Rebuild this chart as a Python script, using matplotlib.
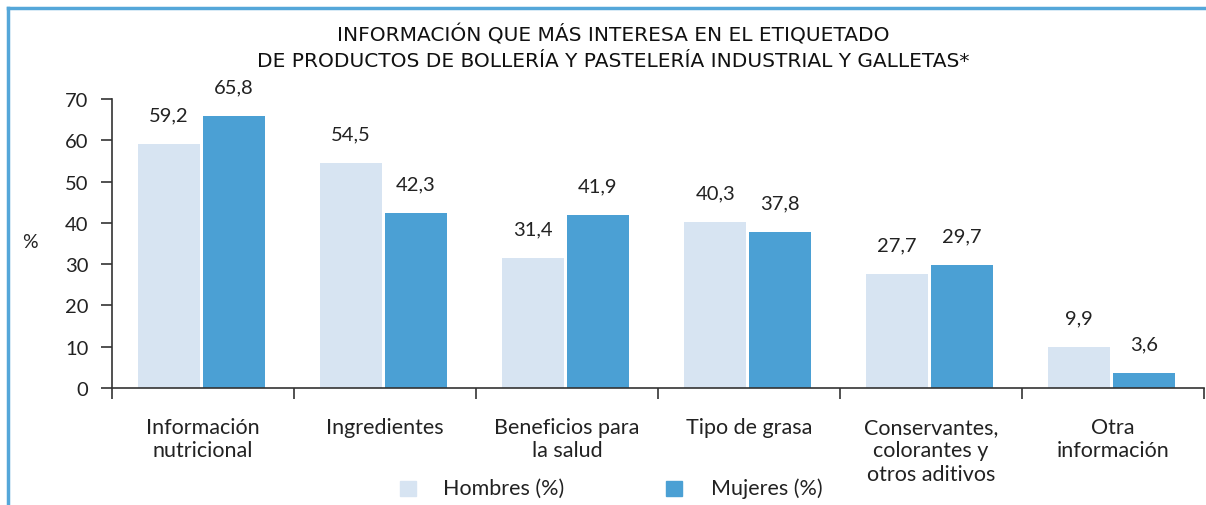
import matplotlib
matplotlib.use("Agg")
import matplotlib.pyplot as plt
from matplotlib.patches import Rectangle
from matplotlib.lines import Line2D
import numpy as np

categories = ["Información\nnutricional", "Ingredientes", "Beneficios para\nla salud",
              "Tipo de grasa", "Conservantes,\ncolorantes y\notros aditivos", "Otra\ninformación"]
hombres = [59.2, 54.5, 31.4, 40.3, 27.7, 9.9]
mujeres = [65.8, 42.3, 41.9, 37.8, 29.7, 3.6]
labels_h = ["59,2", "54,5", "31,4", "40,3", "27,7", "9,9"]
labels_m = ["65,8", "42,3", "41,9", "37,8", "29,7", "3,6"]
yticks = [0, 10, 20, 30, 40, 50, 60, 70]
title = ("INFORMACIÓN QUE MÁS INTERESA EN EL ETIQUETADO\n"
         "DE PRODUCTOS DE BOLLERÍA Y PASTELERÍA INDUSTRIAL Y GALLETAS*")

C_H = "#d7e4f2"
C_M = "#4ba0d4"
C_TXT = "#222222"
C_AX = "#333333"
C_BORDER = "#55a7d9"

plt.rcParams["font.family"] = ["Lato", "DejaVu Sans"]

fig = plt.figure(figsize=(12.06, 5.06), dpi=100)
ax = fig.add_axes([112 / 1206, 117 / 506, 1092 / 1206, 289 / 506])

x = np.arange(len(categories)) + 0.5
w = 0.34
bh = ax.bar(x - 0.186, hombres, width=w, color=C_H, zorder=2)
bm = ax.bar(x + 0.17, mujeres, width=w, color=C_M, zorder=2)

for bars, labs in ((bh, labels_h), (bm, labels_m)):
    for rect, lab in zip(bars, labs):
        ax.annotate(lab, (rect.get_x() + rect.get_width() / 2, rect.get_height()),
                    xytext=(0, 21), textcoords="offset points", ha="center", va="center",
                    fontsize=14.5, color=C_TXT)

ax.set_xlim(0, len(categories))
ax.set_ylim(0, 70)
ax.set_yticks(yticks)
ax.set_yticklabels([str(t) for t in yticks], fontsize=14.5, color=C_TXT)
ax.set_xticks(np.arange(len(categories) + 1))
ax.set_xticklabels([])
ax.tick_params(axis="y", direction="out", length=8, width=1.2, color=C_AX, pad=9)
ax.tick_params(axis="x", direction="out", length=8, width=1.2, color=C_AX)
for s in ["top", "right"]:
    ax.spines[s].set_visible(False)
for s in ["left", "bottom"]:
    ax.spines[s].set_color(C_AX)
    ax.spines[s].set_linewidth(1.2)

for xi, cat in zip(x, categories):
    ax.text(xi, -7.0, cat, ha="center", va="top", fontsize=15.5, color=C_TXT,
            linespacing=1.22)

fig.text(30 / 1206, 1 - 243 / 506, "%", ha="center", va="center", fontsize=14, color=C_TXT)

fig.text(613 / 1206, 1 - 48 / 506, title, ha="center", va="center", fontsize=14.5,
         color="#111111", linespacing=1.45,
         family=["DejaVu Sans Condensed", "DejaVu Sans"])

# legend
fig.patches.append(Rectangle((400 / 1206, 1 - 497 / 506), 16 / 1206, 15 / 506,
                             transform=fig.transFigure, color=C_H))
fig.patches.append(Rectangle((666 / 1206, 1 - 497 / 506), 16 / 1206, 15 / 506,
                             transform=fig.transFigure, color=C_M))
fig.text(443 / 1206, 1 - 489 / 506, "Hombres (%)", ha="left", va="center",
         fontsize=15.5, color=C_TXT)
fig.text(711 / 1206, 1 - 489 / 506, "Mujeres (%)", ha="left", va="center",
         fontsize=15.5, color=C_TXT)

# frame lines on top and left
fig.add_artist(Line2D([8 / 1206, 1], [1 - 9 / 506, 1 - 9 / 506], transform=fig.transFigure,
                      color=C_BORDER, linewidth=2.5))
fig.add_artist(Line2D([8 / 1206, 8 / 1206], [0, 1 - 9 / 506], transform=fig.transFigure,
                      color=C_BORDER, linewidth=2.5))

fig.savefig("out.png", dpi=100, facecolor="white")
